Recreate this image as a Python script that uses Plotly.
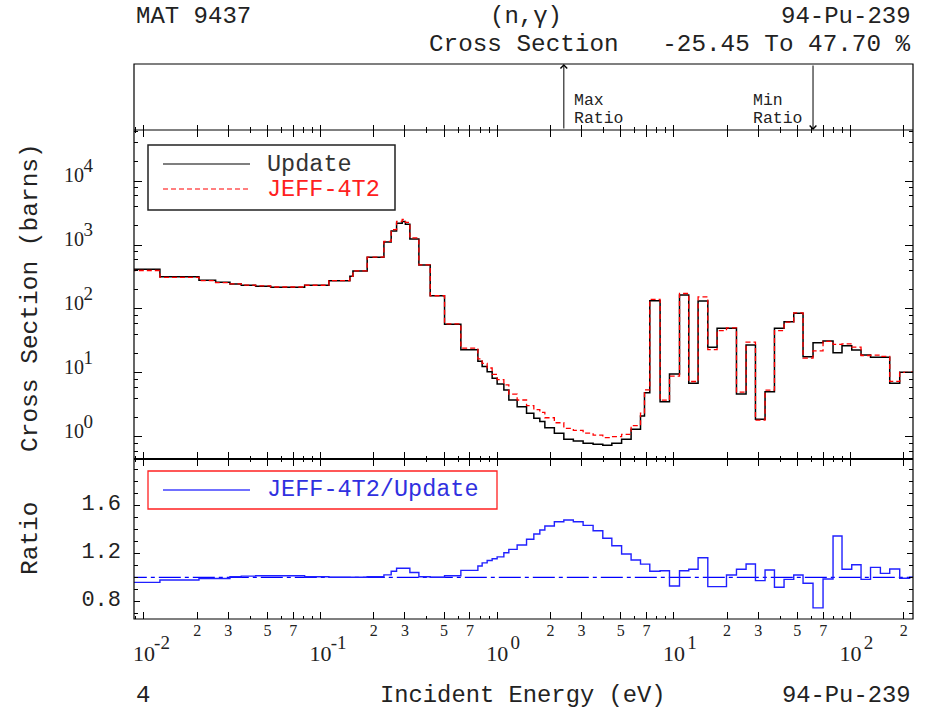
import numpy as np
import plotly.graph_objects as go

# ---------------- data ----------------
# multigroup energy boundaries (eV)
edges = [0.005, 0.01231, 0.02048, 0.02545, 0.03067, 0.03553, 0.04285, 0.05212, 0.0812,
         0.1114, 0.1465, 0.1524, 0.1835, 0.2282, 0.2509, 0.2692, 0.2896, 0.3019, 0.3201,
         0.36, 0.4172, 0.503, 0.6223, 0.7768, 0.8213, 0.8766, 0.9357, 0.9986, 1.090,
         1.163, 1.296, 1.465, 1.611, 1.742, 1.860, 2.105, 2.382, 2.696, 3.063, 3.489,
         3.959, 4.453, 5.058, 5.725, 6.471, 6.817, 7.304, 8.354, 9.443, 10.76, 12.14,
         13.71, 15.56, 17.56, 19.85, 22.61, 25.63, 28.96, 32.82, 37.10, 42.04, 47.71,
         53.85, 61.34, 69.89, 79.62, 89.50, 101.6, 114.7, 129.8, 147.6, 166.7, 189.9,
         216.3, 250.0]

# "Update" group cross sections (barns)
update = [417, 320, 281, 261, 246, 234, 226, 218, 234, 277,
          324, 393, 643, 1114, 1655, 2180, 2330, 2105, 1241, 487,
          161, 57.7, 23.1, 15.2, 12.6, 10.5, 8.26, 6.73, 5.42, 3.79,
          2.98, 2.34, 1.96, 1.74, 1.40, 1.14, 0.92, 0.866, 0.80, 0.77,
          0.74, 0.80, 0.92, 1.32, 2.13, 4.92, 134.6, 3.56, 9.64, 165.5,
          6.9, 133, 25.2, 49.9, 49.9, 4.7, 27.4, 1.89, 5.1, 49.9,
          63.4, 85.6, 18.0, 29.8, 31.6, 20.8, 26.7, 22.9, 19.1, 17.6,
          17.6, 6.9, 10.3, 10.3]

# JEFF-4T2 / Update ratio per group
ratio = [0.958, 0.977, 0.99, 0.99, 1.005, 1.01, 1.013, 1.013, 1.005, 1.0,
         1.0, 1.0, 1.005, 1.02, 1.05, 1.075, 1.075, 1.075, 1.04, 1.005,
         1.0, 1.013, 1.058, 1.094, 1.12, 1.14, 1.155, 1.17, 1.205, 1.233,
         1.269, 1.317, 1.361, 1.394, 1.427, 1.463, 1.477, 1.463, 1.433, 1.388,
         1.325, 1.263, 1.194, 1.144, 1.11, 1.11, 1.05, 1.055, 0.928, 1.055,
         1.067, 1.163, 0.922, 0.922, 1.019, 1.067, 1.111, 0.972, 1.061, 0.917,
         0.983, 1.019, 0.95, 0.7455, 0.986, 1.344, 1.067, 1.105, 0.983, 1.083,
         1.033, 1.069, 0.992, 1.0]

jeff = [u * r for u, r in zip(update, ratio)]

x_major = [0.01, 0.1, 1, 10, 100]
x_major_exp = ["-2", "-1", "0", "1", "2"]
x_minor_lab = [0.02, 0.03, 0.05, 0.07, 0.2, 0.3, 0.5, 0.7, 2, 3, 5, 7, 20, 30, 50, 70, 200]
x_minor_txt = ["2", "3", "5", "7"] * 4 + ["2"]
y_major = [1, 10, 100, 1000, 10000]
y_major_exp = ["0", "1", "2", "3", "4"]
r_major = [0.8, 1.2, 1.6]
r_major_txt = ["0.8", "1.2", "1.6"]

# ---------------- figure ----------------
MONO = "Liberation Mono"
SERIF = "Liberation Serif"
W, H = 931, 712
L, R, T, B = 134, 18, 64, 93
PW, PH = W - L - R, H - T - B


def px2x(px):
    return (px - L) / PW


def px2y(py):
    return (H - B - py) / PH


d_ratio = [0, px2y(459)]
d_main = [px2y(459), px2y(130)]
d_top = [px2y(130), 1]

step = lambda v: list(v) + [v[-1]]

fig = go.Figure()
fig.add_trace(go.Scatter(x=edges, y=step(update), mode="lines",
                         line=dict(color="black", width=1.5, shape="hv"),
                         xaxis="x2", yaxis="y2", hoverinfo="skip"))
fig.add_trace(go.Scatter(x=edges, y=step(jeff), mode="lines",
                         line=dict(color="#ff0000", width=1.3, shape="hv", dash="5px,3px"),
                         xaxis="x2", yaxis="y2", hoverinfo="skip"))
fig.add_trace(go.Scatter(x=[edges[0], edges[-1]], y=[1, 1], mode="lines",
                         line=dict(color="#0000ff", width=1.2, dash="22px,4px,4px,4px"),
                         xaxis="x", yaxis="y", hoverinfo="skip"))
fig.add_trace(go.Scatter(x=edges, y=step(ratio), mode="lines",
                         line=dict(color="#2020ff", width=1.4, shape="hv"),
                         xaxis="x", yaxis="y", hoverinfo="skip"))
# invisible traces carrying the overlay axes with the decade labels / exponents
for xa, ya, xs, ys in (("x4", "y", x_major, [1] * 5), ("x5", "y", x_major, [1] * 5),
                       ("x2", "y5", [1] * 5, y_major)):
    fig.add_trace(go.Scatter(x=xs, y=ys, mode="markers", marker=dict(opacity=0),
                             xaxis=xa, yaxis=ya, hoverinfo="skip"))

xr = [np.log10(0.00878), np.log10(225.8)]
yr_main = [-0.344, 4.797]
x_minor_all = [m * 10.0 ** k for k in range(-3, 3) for m in range(2, 10)]
x_minor_all = [v for v in x_minor_all if min(abs(v - w) for w in x_minor_lab) > 1e-9]

x_tickvals = x_major + x_minor_lab
x_ticktext = [""] * len(x_major) + x_minor_txt

xminor = dict(tickmode="array", tickvals=x_minor_all, ticks="inside", ticklen=3, tickcolor="black")

noline = dict(showline=False, showgrid=False, zeroline=False)
axis_common = dict(mirror="ticks", ticks="inside", tickcolor="black", **noline)
overlay_common = dict(ticks="", **noline)

fig.update_layout(
    width=W, height=H,
    margin=dict(l=L, r=R, t=T, b=B),
    paper_bgcolor="white", plot_bgcolor="white",
    showlegend=False,
    xaxis=dict(type="log", range=xr, domain=[0, 1], anchor="y",
               tickmode="array", tickvals=x_tickvals, ticktext=x_ticktext,
               ticklen=7, tickwidth=1,
               tickfont=dict(family=SERIF, size=16, color="#222"),
               ticklabelstandoff=0,
               minor=xminor, **axis_common),
    xaxis4=dict(type="log", range=xr, overlaying="x", matches="x", anchor="y", side="bottom",
                tickmode="array", tickvals=x_major, ticktext=["10"] * 5,
                tickfont=dict(family=SERIF, size=22, color="#222"),
                ticklabelstandoff=19, **overlay_common),
    xaxis5=dict(type="log", range=xr, overlaying="x", matches="x", anchor="y", side="bottom",
                tickmode="array", tickvals=x_major, ticktext=x_major_exp,
                tickfont=dict(family=SERIF, size=19, color="#222"),
                ticklabelstandoff=10, ticklabelshift=18, **overlay_common),
    yaxis=dict(range=[0.6525, 1.986], domain=d_ratio, anchor="x",
               tickmode="array", tickvals=r_major, ticktext=r_major_txt,
               ticklen=6, tickfont=dict(family=MONO, size=22, color="#222"),
               ticklabelstandoff=12, ticklabelshift=-3,
               minor=dict(tickmode="linear", dtick=0.1, tick0=0, ticks="inside", ticklen=4,
                          tickcolor="black"),
               **axis_common),
    xaxis2=dict(type="log", range=xr, domain=[0, 1], anchor="y2", matches="x",
                tickmode="array", tickvals=x_tickvals, showticklabels=False,
                ticklen=7, minor=xminor, **axis_common),
    yaxis2=dict(type="log", range=yr_main, domain=d_main, anchor="x2",
                tickmode="array", tickvals=y_major, ticktext=["10"] * 5,
                ticklen=8, tickfont=dict(family=SERIF, size=20, color="#222"),
                ticklabelstandoff=49, ticklabelshift=-6,
                minor=dict(tickmode="array",
                           tickvals=[m * 10.0 ** k for k in range(-1, 5) for m in (2, 4, 6, 8)],
                           ticks="inside", ticklen=4, tickcolor="black"),
                **axis_common),
    yaxis5=dict(type="log", range=yr_main, overlaying="y2", matches="y2", anchor="x2", side="left",
                tickmode="array", tickvals=y_major, ticktext=y_major_exp,
                tickfont=dict(family=SERIF, size=19, color="#222"),
                ticklabelstandoff=40, ticklabelshift=-16, **overlay_common),
    xaxis3=dict(type="log", range=xr, domain=[0, 1], anchor="y3", matches="x",
                tickmode="array", tickvals=x_tickvals, showticklabels=False,
                ticks="inside", ticklen=5, tickcolor="black",
                minor=dict(tickmode="array", tickvals=x_minor_all, ticks="inside", ticklen=3,
                           tickcolor="black"),
                mirror=False, **noline),
    yaxis3=dict(range=[0, 1], domain=d_top, anchor="x3", showticklabels=False,
                ticks="", **noline),
)

ann = []
shapes = []

# panel frames: one outer box plus the two separating lines
shapes.append(dict(type="rect", xref="paper", yref="paper", x0=0, x1=1, y0=0, y1=1,
                   line=dict(color="black", width=1.2), layer="above"))
shapes.append(dict(type="line", xref="paper", yref="paper", x0=0, x1=1,
                   y0=d_top[0], y1=d_top[0], line=dict(color="black", width=1), layer="above"))
shapes.append(dict(type="line", xref="paper", yref="paper", x0=0, x1=1,
                   y0=d_main[0], y1=d_main[0], line=dict(color="black", width=1.8), layer="above"))


def text(s, x, y, anchor="left", size=22, color="#222", family=MONO, angle=0, xref="paper", yref="paper", xshift=0):
    ann.append(dict(text=s, x=x, y=y, xref=xref, yref=yref, xanchor=anchor, yanchor="middle",
                    showarrow=False, textangle=angle, xshift=xshift,
                    font=dict(family=family, size=size, color=color)))


# header
rmin, rmax = min(ratio), max(ratio)
text("MAT 9437", px2x(134), px2y(16), "left", 24)
text("(n,γ)", px2x(526), px2y(16), "center", 24)
text("94-Pu-239", px2x(913), px2y(16), "right", 24)
text("Cross Section   %.2f To %.2f %%" % ((rmin - 1) * 100, (rmax - 1) * 100),
     px2x(913), px2y(45), "right", 24.3)

# footer
text("4", px2x(134), px2y(695), "left", 24)
text("Incident Energy (eV)", px2x(523), px2y(695), "center", 23.8)
text("94-Pu-239", px2x(913), px2y(695), "right", 23.8)

# axis titles
text("Cross Section (barns)", px2x(30), px2y(298), "center", 24.5, angle=-90)
text("Ratio", px2x(30), px2y(538), "center", 24.5, angle=-90)

# max / min ratio arrows in the top panel
e_max = edges[int(np.argmax(ratio))]
e_min = edges[int(np.argmin(ratio))]
for e, up in ((e_max, True), (e_min, False)):
    ann.append(dict(x=np.log10(e), y=1 if up else 0, ax=np.log10(e), ay=0 if up else 1,
                    xref="x3", yref="y3", axref="x3", ayref="y3", text="",
                    showarrow=True, arrowhead=4, arrowsize=1.3, arrowwidth=1,
                    arrowcolor="black", standoff=0, startstandoff=0))
text("Max", np.log10(e_max), px2y(100), "left", 16.5, xref="x3", xshift=8)
text("Ratio", np.log10(e_max), px2y(118), "left", 16.5, xref="x3", xshift=8)
text("Min", np.log10(e_min), px2y(100), "left", 16.5, xref="x3", xshift=-62)
text("Ratio", np.log10(e_min), px2y(118), "left", 16.5, xref="x3", xshift=-62)

# legend (main panel)
shapes.append(dict(type="rect", xref="paper", yref="paper", x0=px2x(148), x1=px2x(395),
                   y0=px2y(210), y1=px2y(145), line=dict(color="#222", width=1.5),
                   fillcolor="white"))
shapes.append(dict(type="line", xref="paper", yref="paper", x0=px2x(163), x1=px2x(250),
                   y0=px2y(164), y1=px2y(164), line=dict(color="#555", width=1.5)))
shapes.append(dict(type="line", xref="paper", yref="paper", x0=px2x(163), x1=px2x(250),
                   y0=px2y(189), y1=px2y(189), line=dict(color="#ff0000", width=1.2, dash="5px,3px")))
text("Update", px2x(265), px2y(164), "left", 23.5, color="#333")
text("JEFF-4T2", px2x(265), px2y(189), "left", 23.5, color="#ff2020")

# legend (ratio panel)
shapes.append(dict(type="rect", xref="paper", yref="paper", x0=px2x(148), x1=px2x(497),
                   y0=px2y(509), y1=px2y(471), line=dict(color="#ff2020", width=1.3),
                   fillcolor="white"))
shapes.append(dict(type="line", xref="paper", yref="paper", x0=px2x(163), x1=px2x(250),
                   y0=px2y(490), y1=px2y(490), line=dict(color="#4040ff", width=1.3)))
text("JEFF-4T2/Update", px2x(265), px2y(490), "left", 23.5, color="#3030e0")

fig.update_layout(annotations=ann, shapes=shapes)
fig.write_html("out.html")
